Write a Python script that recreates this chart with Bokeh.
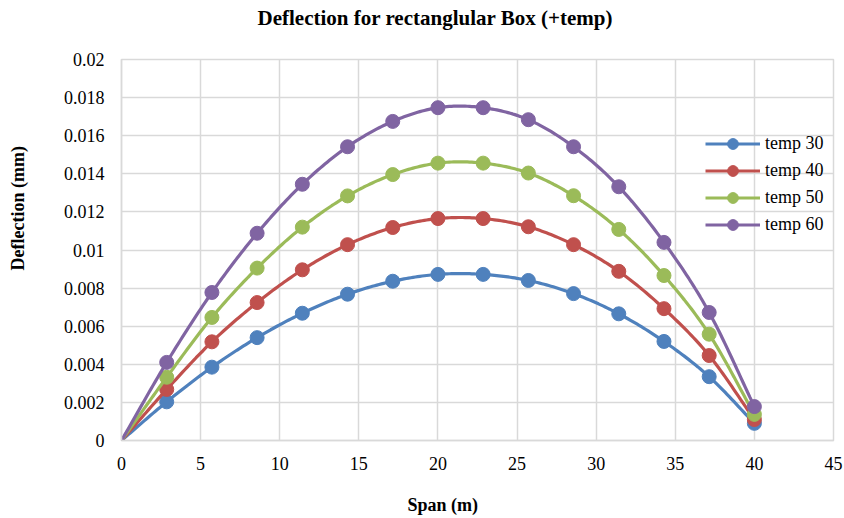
import numpy as np
from bokeh.plotting import figure
from bokeh.models import Range1d, FixedTicker, Legend, LegendItem, Title, ColumnDataSource
from bokeh.embed import file_html
from bokeh.resources import INLINE

span = [0, 2.857, 5.714, 8.571, 11.429, 14.286, 17.143, 20.0, 22.857, 25.714, 28.571, 31.429, 34.286, 37.143, 40.0]
temp30 = [0, 0.00203, 0.00385, 0.0054, 0.00668, 0.00768, 0.00836, 0.00872, 0.00872, 0.0084, 0.00771, 0.00665, 0.0052, 0.00335, 0.0009]
temp40 = [0, 0.00268, 0.00518, 0.00724, 0.00896, 0.01028, 0.01118, 0.01165, 0.01165, 0.01122, 0.01028, 0.00888, 0.00692, 0.00446, 0.0011]
temp50 = [0, 0.00332, 0.00646, 0.00905, 0.0112, 0.01284, 0.01396, 0.01456, 0.01456, 0.01404, 0.01285, 0.01108, 0.00866, 0.00558, 0.00137]
temp60 = [0, 0.0041, 0.00777, 0.01088, 0.01345, 0.01542, 0.01675, 0.01747, 0.01747, 0.01684, 0.01542, 0.01332, 0.0104, 0.00672, 0.00178]
series_names = ["temp 30", "temp 40", "temp 50", "temp 60"]
series_values = [temp30, temp40, temp50, temp60]
colors = ["#4f81bd", "#c0504d", "#9bbb59", "#8064a2"]

x_ticks = [0, 5, 10, 15, 20, 25, 30, 35, 40, 45]
y_ticks = [0, 0.002, 0.004, 0.006, 0.008, 0.01, 0.012, 0.014, 0.016, 0.018, 0.02]
y_tick_labels = ["0", "0.002", "0.004", "0.006", "0.008", "0.01", "0.012", "0.014", "0.016", "0.018", "0.02"]

title_text = "Deflection for rectanglular Box (+temp)"
x_title = "Span (m)"
y_title = "Deflection (mm)"

FONT = "Liberation Serif"


def smooth(xs, ys, n=20):
    # Catmull-Rom spline through the given points (rendering only)
    xs = np.asarray(xs, float)
    ys = np.asarray(ys, float)
    px = np.concatenate([[2 * xs[0] - xs[1]], xs, [2 * xs[-1] - xs[-2]]])
    py = np.concatenate([[2 * ys[0] - ys[1]], ys, [2 * ys[-1] - ys[-2]]])
    ox, oy = [], []
    t = np.linspace(0, 1, n, endpoint=False)
    for i in range(1, len(px) - 2):
        for arr, out in ((px, ox), (py, oy)):
            p0, p1, p2, p3 = arr[i - 1], arr[i], arr[i + 1], arr[i + 2]
            out.extend(0.5 * ((2 * p1) + (-p0 + p2) * t + (2 * p0 - 5 * p1 + 4 * p2 - p3) * t ** 2
                              + (-p0 + 3 * p1 - 3 * p2 + p3) * t ** 3))
    ox.append(xs[-1])
    oy.append(ys[-1])
    return ox, oy


def spacer(k):
    # white-on-white layout spacer inside a side panel
    return Title(text=".", text_font_size="1px", standoff=k, text_color="#ffffff")


p = figure(width=844, height=518, output_backend="svg", toolbar_location=None,
           x_range=Range1d(0, 45), y_range=Range1d(0, 0.02),
           min_border_left=121, min_border_right=11, min_border_top=59, min_border_bottom=78)
p.background_fill_color = "white"
p.border_fill_color = "white"
p.outline_line_color = "#d9d9d9"
p.outline_line_width = 1.5
p.title.text = ""

p.xaxis.ticker = FixedTicker(ticks=x_ticks)
p.yaxis.ticker = FixedTicker(ticks=y_ticks)
p.yaxis.major_label_overrides = {t: l for t, l in zip(y_ticks, y_tick_labels)}
for ax in (p.xaxis, p.yaxis):
    ax.axis_line_color = "#d9d9d9"
    ax.axis_line_width = 1.5
    ax.major_tick_line_color = None
    ax.minor_tick_line_color = None
    ax.major_tick_out = 0
    ax.major_tick_in = 0
    ax.minor_tick_out = 0
    ax.minor_tick_in = 0
    ax.major_label_text_font = FONT
    ax.major_label_text_font_size = "18px"
    ax.major_label_text_color = "#000000"
p.xaxis.major_label_standoff = 16
p.yaxis.major_label_standoff = 17

for g in (p.xgrid, p.ygrid):
    g.grid_line_color = "#d9d9d9"
    g.grid_line_width = 1.5

items = []
for name, vals, c in zip(series_names, series_values, colors):
    sx, sy = smooth(span, vals)
    lr = p.line(sx, sy, line_color=c, line_width=3.2)
    src = ColumnDataSource(dict(x=span[1:], y=vals[1:]))
    cr = p.scatter("x", "y", source=src, size=14, fill_color=c, line_color=c)
    items.append(LegendItem(label=name, renderers=[lr, cr]))

legend = Legend(items=items, location=(584, 202), orientation="vertical",
                glyph_width=55, glyph_height=27, label_height=27, spacing=0, padding=0, margin=0,
                label_standoff=5, label_text_font=FONT, label_text_font_size="18px",
                label_text_baseline="middle", label_text_color="#000000",
                background_fill_alpha=0, border_line_color=None)
p.add_layout(legend)

# chart title: spacer next to the frame, title outside it
p.add_layout(spacer(25), "above")
main_title = Title(text=title_text, text_font=FONT, text_font_size="21px", text_font_style="bold",
                   text_color="#000000", align="left", offset=136, vertical_align="top", standoff=0)
p.add_layout(main_title, "above")

# x axis title
p.add_layout(spacer(17), "below")
xt = Title(text=x_title, text_font=FONT, text_font_size="18px", text_font_style="bold",
           text_color="#000000", align="left", offset=286, vertical_align="bottom", standoff=0)
p.add_layout(xt, "below")

# y axis title
p.add_layout(spacer(28), "left")
yt = Title(text=y_title, text_font=FONT, text_font_size="18px", text_font_style="bold",
           text_color="#000000", align="left", offset=170, vertical_align="top", standoff=0)
p.add_layout(yt, "left")

open("out.html", "w").write(file_html(p, INLINE))
